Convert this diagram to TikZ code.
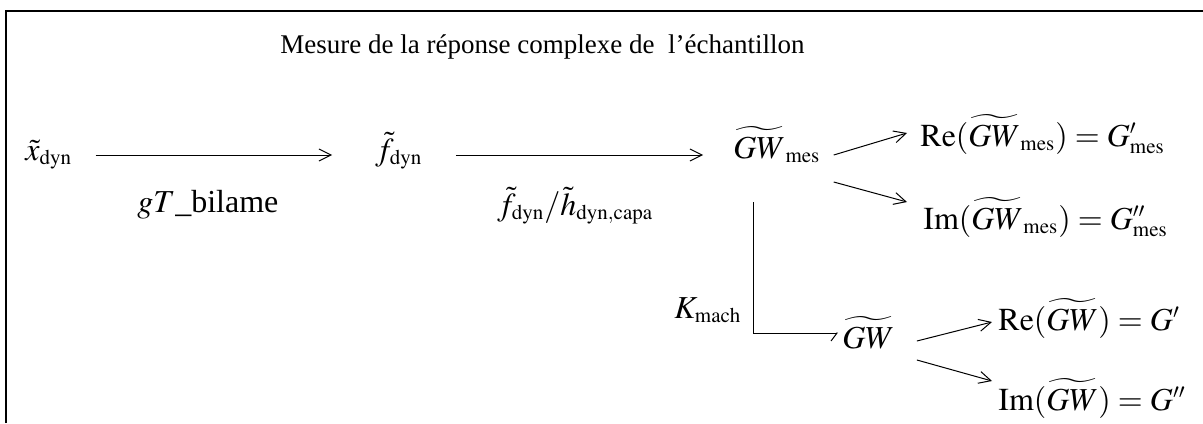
\documentclass[tikz,border=0pt]{standalone}
\usepackage{mathptmx}
\usepackage[no-math]{fontspec}
\setmainfont{Liberation Serif}
\usetikzlibrary{arrows.meta, calc}
\DeclareMathSizes{16}{16}{10.5}{8}

\begin{document}
\begin{tikzpicture}[x=0.5pt, y=-0.5pt,
    every node/.style={inner sep=0pt, anchor=base west, font=\fontsize{16}{19}\selectfont},
    arr/.style={-{Straight Barb[length=6pt, width=6pt]}, line width=0.5pt},
    hook/.style={-{Straight Barb[harpoon, swap, length=3pt, width=8pt]}, line width=0.5pt},
    titlefont/.style={font=\fontsize{13.5}{16}\selectfont}
]
\useasboundingbox (0,0) rectangle (1203,423);
\draw[line width=1pt] (6,423) |- (1203,11);

\node[titlefont] (title) at (280,53) {Mesure de la réponse complexe de\ \ l’échantillon};

% chaine de mesure
\node (xdyn) at (25,160) {$\tilde{x}_{\mathrm{dyn}}$};
\node (fdyn) at (375,160) {$\tilde{f}_{\mathrm{dyn}}$};
\node (gwmes) at (733,158) {$\widetilde{GW}_{\mathrm{mes}}$};
\node (remes) at (920,146) {$\mathrm{Re}(\widetilde{GW}_{\mathrm{mes}}) = G'_{\mathrm{mes}}$};
\node (immes) at (923,229) {$\mathrm{Im}(\widetilde{GW}_{\mathrm{mes}}) = G''_{\mathrm{mes}}$};

\node (bilame) at (137,212) {$gT$\_bilame};
\node (ratio) at (497,215) {$\tilde{f}_{\mathrm{dyn}}/\tilde{h}_{\mathrm{dyn,capa}}$};

% correction machine
\node (kmach) at (674,318) {$K_{\mathrm{mach}}$};
\node (gw) at (842,348) {$\widetilde{GW}$};
\node (re) at (998,330) {$\mathrm{Re}(\widetilde{GW}) = G'$};
\node (im) at (998,410) {$\mathrm{Im}(\widetilde{GW}) = G''$};

\draw[arr] ($(xdyn.base east)+(23,-5)$) -- ($(fdyn.base west)+(-43,-5)$);
\draw[arr] ($(fdyn.base east)+(33,-5)$) -- ($(gwmes.base west)+(-30,-3)$);
\draw[arr] ($(gwmes.base east)+(13,-3)$) -- ($(remes.base west)+(-13,-13)$);
\draw[arr] ($(gwmes.base east)+(13,24)$) -- ($(immes.base west)+(-16,-27)$);
\draw[hook] ($(gwmes.base west)+(20,44)$) |- ($(gw.base west)+(-4,-15)$);
\draw[arr] ($(gw.base east)+(22,-7)$) -- ($(re.base west)+(-6,-8)$);
\draw[arr] ($(gw.base east)+(22,12)$) -- ($(im.base west)+(-6,-29)$);
\end{tikzpicture}
\end{document}
